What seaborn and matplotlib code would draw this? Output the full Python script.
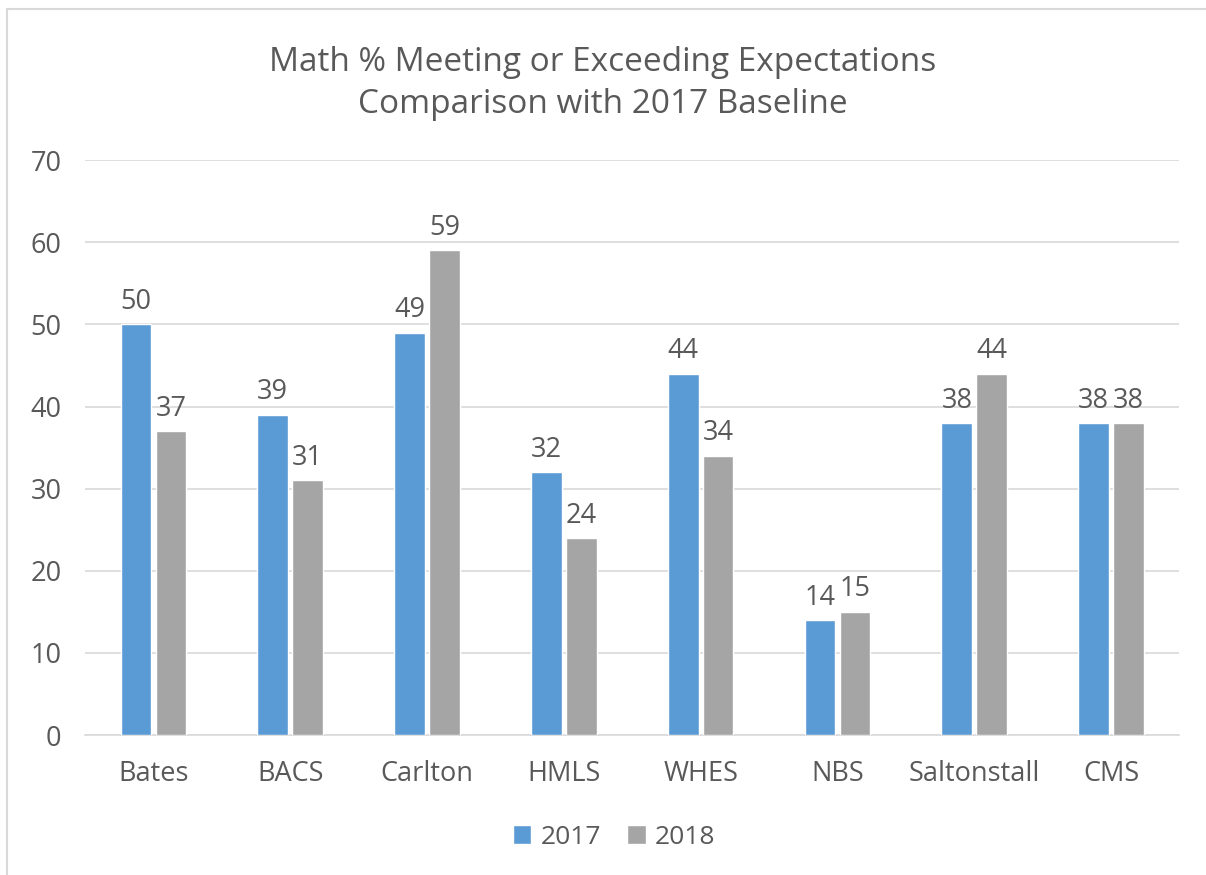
import pandas as pd
import seaborn as sns
import matplotlib.pyplot as plt
from matplotlib.lines import Line2D

schools = ['Bates', 'BACS', 'Carlton', 'HMLS', 'WHES', 'NBS', 'Saltonstall', 'CMS']
scores_2017 = [50, 39, 49, 32, 44, 14, 38, 38]
scores_2018 = [37, 31, 59, 24, 34, 15, 44, 38]
years = ['2017', '2018']

df = pd.DataFrame({
    'School': schools * 2,
    'Year': [years[0]] * len(schools) + [years[1]] * len(schools),
    'Score': scores_2017 + scores_2018,
})

sns.set_theme(style='white')
plt.rcParams['font.family'] = ['Open Sans', 'DejaVu Sans']
text_color = '#595959'

fig = plt.figure(figsize=(12.06, 8.75), dpi=100)
ax = fig.add_axes([0.0705, 0.16, 0.9075, 0.657])

sns.barplot(data=df, x='School', y='Score', hue='Year',
            palette=['#5b9bd5', '#a5a5a5'], width=0.51, gap=0.12,
            saturation=1, ax=ax, legend=True, zorder=3)

for container in ax.containers:
    ax.bar_label(container, fmt='%d', padding=6, fontsize=19.5, color=text_color)

ax.set_ylim(0, 70)
ax.set_yticks(range(0, 71, 10))
ax.set_xlim(-0.5, len(schools) - 0.5)
ax.yaxis.grid(True, color='#d9d9d9', linewidth=1.2, zorder=0)
ax.set_axisbelow(True)
for side in ['top', 'right', 'left']:
    ax.spines[side].set_visible(False)
ax.spines['bottom'].set_color('#d9d9d9')
ax.spines['bottom'].set_linewidth(1.2)
ax.tick_params(axis='both', length=0, labelsize=19.5, colors=text_color)
ax.tick_params(axis='x', pad=18)
ax.tick_params(axis='y', pad=17)
ax.set_xlabel('')
ax.set_ylabel('')

fig_center = (0.5 - 0.0705) / 0.9075
ax.set_title('Math % Meeting or Exceeding Expectations\nComparison with 2017 Baseline',
             fontsize=24, color=text_color, pad=34, linespacing=1.35, x=fig_center)

leg = ax.legend(loc='upper center', bbox_to_anchor=(fig_center + 0.01, -0.115), ncol=2, frameon=False,
                fontsize=19, handlelength=0.7, handleheight=0.7, columnspacing=1.0,
                handletextpad=0.35)
for t in leg.get_texts():
    t.set_color(text_color)

# chart frame
fig.add_artist(Line2D([0.006, 1.0], [0.99, 0.99], color='#d9d9d9', linewidth=1.5, transform=fig.transFigure))
fig.add_artist(Line2D([0.006, 0.006], [0.0, 0.99], color='#d9d9d9', linewidth=1.5, transform=fig.transFigure))

fig.savefig('out.png', dpi=100)
